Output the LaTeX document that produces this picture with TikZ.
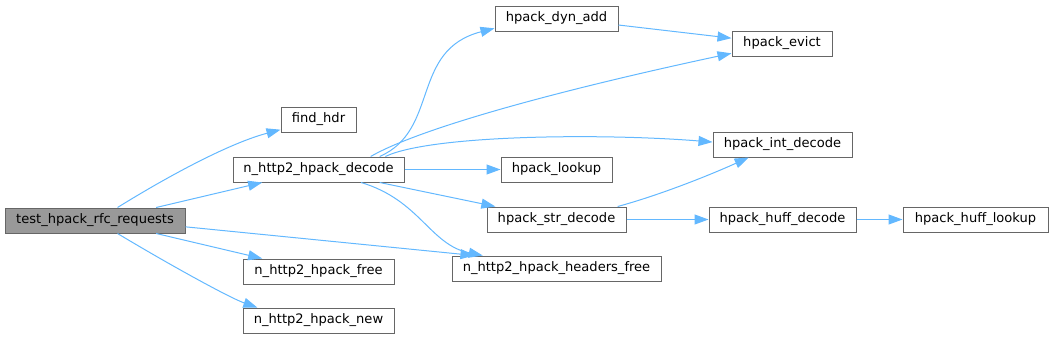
\documentclass[tikz,border=0pt]{standalone}
\usepackage{fontspec}
\setmainfont{DejaVu Sans}
\usetikzlibrary{arrows.meta}
\definecolor{edgeblue}{HTML}{63B8FF}
\definecolor{boxgray}{HTML}{666666}
\definecolor{rootgray}{HTML}{999999}

\begin{document}
\begin{tikzpicture}[x=.75pt,y=-.75pt,
  fn/.style={draw=boxgray,fill=white,line width=.75pt,minimum height=18.75pt,inner sep=0pt,font=\fontsize{9.8}{12}\selectfont},
  call/.style={draw=edgeblue,line width=.75pt,-{Triangle[length=10.5pt,width=7.5pt]}}]
\useasboundingbox (0,0) rectangle (1052,339);
\node[fn,fill=rootgray,minimum width=135pt] (test) at (95,220.5) {test\_hpack\_rfc\_requests};
\node[fn,minimum width=56.25pt] (find) at (318.5,119.5) {find\_hdr};
\node[fn,minimum width=128.25pt] (dec) at (318.5,169.5) {n\_http2\_hpack\_decode};
\node[fn,minimum width=113.25pt] (free) at (318.5,271.5) {n\_http2\_hpack\_free};
\node[fn,minimum width=113.25pt] (new) at (318.5,320.5) {n\_http2\_hpack\_new};
\node[fn,minimum width=92.25pt] (dyn) at (556.5,18.5) {hpack\_dyn\_add};
\node[fn,minimum width=83.25pt] (lookup) at (556.5,169.5) {hpack\_lookup};
\node[fn,minimum width=104.25pt] (strdec) at (556.5,219.5) {hpack\_str\_decode};
\node[fn,minimum width=156.75pt] (hfree) at (556.5,268.5) {n\_http2\_hpack\_headers\_free};
\node[fn,minimum width=75pt] (evict) at (782,43.5) {hpack\_evict};
\node[fn,minimum width=104.25pt] (intdec) at (782.5,144.5) {hpack\_int\_decode};
\node[fn,minimum width=110.25pt] (huffdec) at (782.5,219.5) {hpack\_huff\_decode};
\node[fn,minimum width=108.75pt] (hufflookup) at (975.5,219.5) {hpack\_huff\_lookup};
% calls from the test
\draw[call] (test.30) .. controls (170,175) and (230,143) .. (find.195);
\draw[call] (test.12) -- (dec.193);
\draw[call] (test.-4) -- (hfree.171);
\draw[call] (test.-12) -- (free.167);
\draw[call] (test.-30) .. controls (170,265) and (230,298) .. (new.168);
% calls from the decoder
\draw[call] (dec.12) .. controls (440,130) and (410,50) .. (dyn.189);
\draw[call] (dec.14) .. controls (420,128) and (560,90) .. (evict.191);
\draw[call] (dec.11) .. controls (430,135) and (600,133) .. (intdec.178);
\draw[call] (dec.east) -- (lookup.west);
\draw[call] (dec.-12) -- (strdec.168);
\draw[call] (dec.-17) .. controls (420,200) and (430,245) .. (hfree.170);
\draw[call] (dyn.-6) -- (evict.174);
\draw[call] (strdec.12) .. controls (660,195) and (710,175) .. (intdec.201);
\draw[call] (strdec.east) -- (huffdec.west);
\draw[call] (huffdec.east) -- (hufflookup.west);
\end{tikzpicture}
\end{document}
